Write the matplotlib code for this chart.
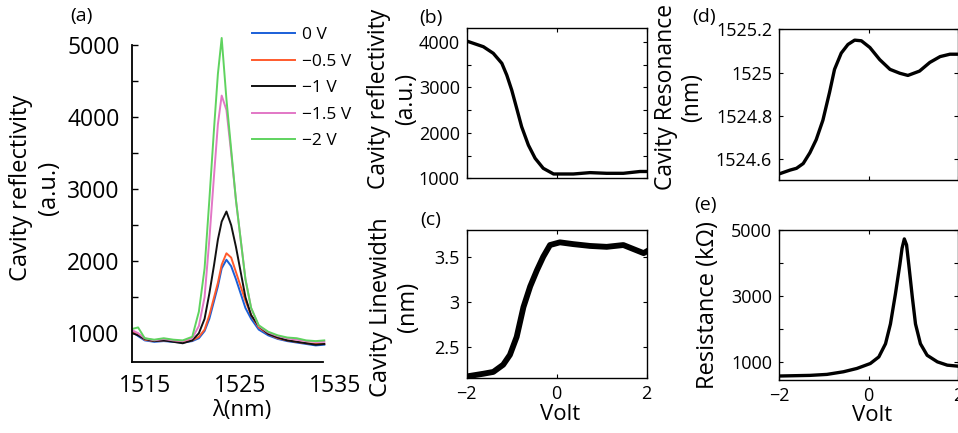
import matplotlib
matplotlib.use('Agg')
import matplotlib.pyplot as plt
from matplotlib.ticker import MultipleLocator, FixedLocator

plt.rcParams['font.family'] = ['Open Sans', 'DejaVu Sans']
plt.rcParams['axes.unicode_minus'] = True

# (a) reflection spectra
wl = [1513.7, 1514.3, 1515.0, 1516.0, 1517.0, 1518.0, 1519.0, 1520.0, 1520.7, 1521.3,
      1521.8, 1522.3, 1522.7, 1523.1, 1523.6, 1524.1, 1524.6, 1525.1, 1525.6, 1526.2,
      1527.0, 1528.0, 1529.0, 1530.0, 1531.0, 1532.0, 1533.0, 1533.9]
spec_0 = [1020, 960, 900, 880, 890, 880, 870, 890, 930, 1030, 1200, 1450, 1650, 1900, 2020,
          1930, 1750, 1550, 1350, 1200, 1050, 970, 920, 890, 870, 850, 830, 840]
spec_05 = [1010, 980, 910, 890, 900, 890, 880, 900, 950, 1050, 1250, 1500, 1700, 1950, 2110,
           2050, 1850, 1650, 1450, 1250, 1080, 990, 930, 900, 880, 860, 850, 850]
spec_1 = [1000, 970, 920, 890, 900, 880, 860, 900, 1000, 1200, 1550, 1950, 2300, 2550, 2690,
          2500, 2200, 1850, 1500, 1250, 1100, 990, 940, 900, 880, 860, 840, 850]
spec_15 = [1040, 1000, 930, 900, 920, 900, 890, 930, 1100, 1500, 2300, 3200, 3900, 4300, 4100,
           3500, 2850, 2300, 1750, 1350, 1100, 1010, 960, 930, 910, 890, 880, 880]
spec_2 = [1060, 1080, 930, 910, 930, 910, 900, 950, 1300, 1900, 2850, 3850, 4600, 5100, 4250,
          3550, 2850, 2300, 1750, 1350, 1110, 1020, 970, 940, 930, 900, 890, 900]
spec_labels = ['0 V', '−0.5 V', '−1 V', '−1.5 V', '−2 V']
spec_colors = ['#1a5fd8', '#ff5a2c', '#111111', '#e277c6', '#5fd35f']

# (b)-(e) vs bias
v_b = [-2.0, -1.63, -1.41, -1.22, -1.11, -1.0, -0.89, -0.78, -0.63, -0.48, -0.30, -0.07,
       0.37, 0.74, 1.11, 1.48, 1.85, 2.0]
refl_b = [4020, 3895, 3750, 3530, 3270, 2940, 2540, 2135, 1730, 1440, 1220, 1095,
          1095, 1125, 1110, 1110, 1150, 1150]

v_c = [-2.0, -1.63, -1.41, -1.19, -1.04, -0.89, -0.74, -0.59, -0.44, -0.30, -0.15, 0.07,
       0.37, 0.74, 1.11, 1.48, 1.78, 1.93, 2.0]
width_c = [2.17, 2.20, 2.22, 2.30, 2.41, 2.61, 2.94, 3.17, 3.35, 3.50, 3.63, 3.66,
           3.64, 3.62, 3.61, 3.63, 3.57, 3.54, 3.56]

v_d = [-2.0, -1.75, -1.61, -1.46, -1.31, -1.17, -1.02, -0.87, -0.76, -0.61, -0.46, -0.31,
       -0.16, 0.03, 0.25, 0.48, 0.70, 0.88, 1.14, 1.37, 1.60, 1.82, 2.0]
res_d = [1524.532, 1524.55, 1524.558, 1524.58, 1524.63, 1524.69, 1524.78, 1524.91, 1525.015,
         1525.09, 1525.13, 1525.15, 1525.147, 1525.116, 1525.06, 1525.015, 1524.997, 1524.987,
         1525.007, 1525.047, 1525.074, 1525.085, 1525.085]

v_e = [-2.0, -1.31, -0.93, -0.56, -0.26, 0.04, 0.23, 0.38, 0.49, 0.60, 0.70, 0.75, 0.80,
       0.85, 0.90, 0.98, 1.05, 1.16, 1.31, 1.54, 1.76, 2.0]
resist_e = [571, 590, 620, 700, 800, 950, 1150, 1550, 2150, 3050, 3950, 4450, 4730,
            4550, 3950, 2950, 2150, 1550, 1200, 1000, 900, 870]

fig = plt.figure(figsize=(9.58, 4.33), dpi=100)

# ---- (a)
axa = fig.add_axes([0.1378, 0.164, 0.2116, 0.7566])
for y, lab, c in zip([spec_0, spec_05, spec_1, spec_15, spec_2], spec_labels, spec_colors):
    axa.plot(wl, y, color=c, lw=1.4, label=lab)
axa.set_xlim(1513.66, 1535)
axa.set_ylim(600, 5150)
axa.spines['top'].set_visible(False)
axa.spines['right'].set_visible(False)
axa.spines['left'].set_bounds(600, 5000)
axa.spines['bottom'].set_bounds(1513.66, 1533.8)
for s in ['left', 'bottom']:
    axa.spines[s].set_linewidth(1.3)
axa.set_xticks([1515, 1525, 1535])
axa.set_yticks([1000, 2000, 3000, 4000, 5000])
axa.yaxis.set_minor_locator(FixedLocator([1500, 2500, 3500, 4500]))
axa.tick_params(axis='y', which='both', direction='in', length=4, width=1, labelsize=16.5, pad=9)
axa.tick_params(axis='x', length=0, labelsize=16.5, pad=9)
axa.set_xlabel('λ(nm)', fontsize=16)
axa.xaxis.set_label_coords(0.54, -0.115)
axa.set_ylabel('Cavity reflectivity\n(a.u.)', fontsize=17, linespacing=1.2)
axa.yaxis.set_label_coords(-0.35, 0.53)
axa.legend(loc='upper left', bbox_to_anchor=(252 / 958, 1 - 27 / 433),
           bbox_transform=fig.transFigure, frameon=False, fontsize=12.5,
           handlelength=2.5, handletextpad=0.4, labelspacing=0.6,
           borderpad=0, borderaxespad=0)
axa.text(-0.25, 1.055, '(a)', transform=axa.transAxes, fontsize=14, ha='center', va='center')


def box_axes(rect):
    ax = fig.add_axes(rect)
    for s in ax.spines.values():
        s.set_linewidth(1.0)
    ax.tick_params(which='both', direction='in', top=True, right=True, length=3,
                   width=0.8, labelsize=13, pad=5)
    ax.set_xlim(-2, 2)
    ax.set_xticks([-2, 0, 2])
    return ax


# ---- (b)
axb = box_axes([0.4872, 0.5882, 0.1879, 0.3464])
axb.plot(v_b, refl_b, color='black', lw=2.4)
axb.set_ylim(1000, 4300)
axb.set_yticks([1000, 2000, 3000, 4000])
axb.yaxis.set_minor_locator(MultipleLocator(500))
axb.tick_params(labelbottom=False)
axb.set_ylabel('Cavity reflectivity\n(a.u.)', fontsize=16.5, linespacing=1.15)
axb.yaxis.set_label_coords(-0.27, 0.53)
axb.text(-0.2, 1.07, '(b)', transform=axb.transAxes, fontsize=14, ha='center', va='center')

# ---- (c)
axc = box_axes([0.4872, 0.1263, 0.1879, 0.3425])
axc.plot(v_c, width_c, color='black', lw=4.2)
axc.set_ylim(2.149, 3.797)
axc.set_yticks([2.5, 3, 3.5])
axc.set_yticklabels(['2.5', '3', '3.5'])
axc.set_xticklabels(['−2', '0', '2'])
axc.set_xlabel('Volt', fontsize=16)
axc.xaxis.set_label_coords(0.52, -0.17)
axc.set_ylabel('Cavity Linewidth\n(nm)', fontsize=17, linespacing=1.15)
axc.yaxis.set_label_coords(-0.26, 0.48)
axc.text(-0.2, 1.07, '(c)', transform=axc.transAxes, fontsize=14, ha='center', va='center')

# ---- (d)
axd = box_axes([0.8132, 0.5843, 0.1868, 0.348])
axd.plot(v_d, res_d, color='black', lw=2.4)
axd.set_ylim(1524.504, 1525.2)
axd.set_yticks([1524.6, 1524.8, 1525.0, 1525.2])
axd.set_yticklabels(['1524.6', '1524.8', '1525', '1525.2'])
axd.tick_params(labelbottom=False)
axd.set_ylabel('Cavity Resonance\n(nm)', fontsize=16.5, linespacing=1.1)
axd.yaxis.set_label_coords(-0.42, 0.55)
axd.text(-0.42, 1.08, '(d)', transform=axd.transAxes, fontsize=14, ha='center', va='center')

# ---- (e)
axe = box_axes([0.8132, 0.1224, 0.1868, 0.3464])
axe.plot(v_e, resist_e, color='black', lw=2.4)
axe.set_ylim(450, 5000)
axe.set_yticks([1000, 3000, 5000])
axe.yaxis.set_minor_locator(FixedLocator([2000, 4000]))
axe.set_xticklabels(['−2', '0', '2'])
axe.set_xlabel('Volt', fontsize=16)
axe.xaxis.set_label_coords(0.52, -0.17)
axe.set_ylabel('Resistance (kΩ)', fontsize=17)
axe.yaxis.set_label_coords(-0.33, 0.5)
axe.text(-0.41, 1.17, '(e)', transform=axe.transAxes, fontsize=14, ha='center', va='center')

fig.savefig('out.png', dpi=100)
